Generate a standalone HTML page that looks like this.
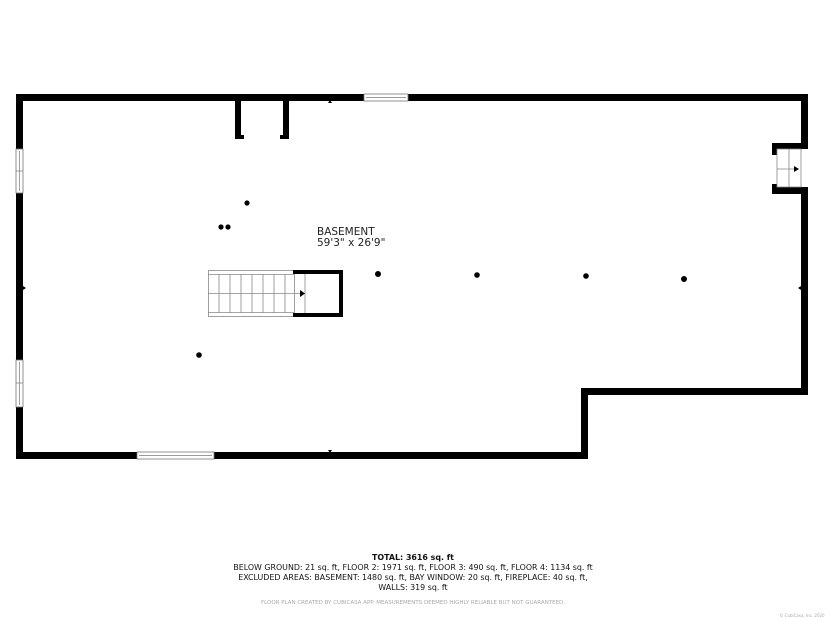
<!DOCTYPE html>
<html><head><style>
html,body{margin:0;padding:0;background:#fff;}
svg{display:block}
text{font-family:"DejaVu Sans","Liberation Sans",sans-serif;}
</style></head><body>
<svg width="825" height="619" viewBox="0 0 825 619" xmlns="http://www.w3.org/2000/svg">
<g fill="#000">
<rect x="16" y="94" width="792" height="7"/>
<rect x="16" y="94" width="7" height="365"/>
<rect x="16" y="452" width="572" height="7"/>
<rect x="581" y="388" width="7" height="71"/>
<rect x="581" y="388" width="227" height="7"/>
<rect x="801" y="94" width="7" height="301"/>
<rect x="235" y="100" width="6" height="39"/>
<rect x="235" y="135" width="9" height="4"/>
<rect x="283" y="100" width="6" height="39"/>
<rect x="280" y="135" width="9" height="4"/>
<rect x="772" y="143" width="36" height="6"/>
<rect x="772" y="187" width="36" height="7"/>
<rect x="772" y="143" width="5" height="12"/>
<rect x="772" y="184" width="5" height="10"/>
</g>
<g fill="#fff" stroke="#777" stroke-width="0.8">
<rect x="364" y="94" width="44" height="7"/>
<rect x="137" y="452" width="77" height="7"/>
<rect x="16" y="149" width="7" height="44"/>
<rect x="16" y="360" width="7" height="47"/>
<rect x="801" y="149" width="7" height="38" stroke="none"/>
</g>
<g stroke="#777" stroke-width="0.7">
<line x1="366" y1="97.5" x2="406" y2="97.5"/>
<line x1="139" y1="455.5" x2="212" y2="455.5"/>
<line x1="19.5" y1="151" x2="19.5" y2="191"/>
<line x1="19.5" y1="362" x2="19.5" y2="405"/>
<line x1="16" y1="171" x2="23" y2="171"/>
<line x1="16" y1="383" x2="23" y2="383"/>
</g>
<g stroke="#888" stroke-width="0.8" fill="none">
<rect x="777" y="149" width="24" height="38"/>
<line x1="789" y1="149" x2="789" y2="187"/>
<line x1="777" y1="169" x2="797" y2="169"/>
</g>
<polygon points="794,166 799,169 794,172" fill="#000"/>
<g stroke="#888" stroke-width="0.8" fill="none">
<rect x="208.5" y="270.5" width="86" height="46"/>
<line x1="208" y1="293.5" x2="305" y2="293.5"/>
<line x1="219" y1="274" x2="219" y2="313"/>
<line x1="230" y1="274" x2="230" y2="313"/>
<line x1="241" y1="274" x2="241" y2="313"/>
<line x1="252" y1="274" x2="252" y2="313"/>
<line x1="263" y1="274" x2="263" y2="313"/>
<line x1="274" y1="274" x2="274" y2="313"/>
<line x1="285" y1="274" x2="285" y2="313"/>
<line x1="305" y1="274" x2="305" y2="313"/>
<line x1="208" y1="274.5" x2="294" y2="274.5"/>
<line x1="208" y1="312.5" x2="294" y2="312.5"/>
</g>
<path d="M293 272 H341 V315 H293" fill="none" stroke="#000" stroke-width="4"/>
<polygon points="300,290 305,293.5 300,297" fill="#000"/>
<polygon points="328,103 332,103 330,100" fill="#000"/>
<polygon points="328,450 332,450 330,453" fill="#000"/>
<polygon points="23,286 23,290 26,288" fill="#000"/>
<polygon points="801,286 801,290 798,288" fill="#000"/>
<g fill="#000">
<circle cx="247" cy="203" r="2.6"/>
<circle cx="221" cy="227" r="2.6"/>
<circle cx="228" cy="227" r="2.6"/>
<circle cx="378" cy="274" r="3"/>
<circle cx="477" cy="275" r="2.8"/>
<circle cx="586" cy="276" r="2.8"/>
<circle cx="684" cy="279" r="3"/>
<circle cx="199" cy="355" r="2.8"/>
</g>
<text x="317" y="235" font-size="10.5" fill="#222" font-family="Liberation Sans,sans-serif">BASEMENT</text>
<text x="317" y="246" font-size="10.5" fill="#222" font-family="Liberation Sans,sans-serif">59'3" x 26'9"</text>
<g font-size="7.9" fill="#111" text-anchor="middle">
<text x="413" y="560" font-weight="bold">TOTAL: 3616 sq. ft</text>
<text x="413" y="570">BELOW GROUND: 21 sq. ft, FLOOR 2: 1971 sq. ft, FLOOR 3: 490 sq. ft, FLOOR 4: 1134 sq. ft</text>
<text x="413" y="580">EXCLUDED AREAS: BASEMENT: 1480 sq. ft, BAY WINDOW: 20 sq. ft, FIREPLACE: 40 sq. ft,</text>
<text x="413" y="590">WALLS: 319 sq. ft</text>
<text x="413" y="604" font-size="5.5" fill="#aaa">FLOOR PLAN CREATED BY CUBICASA APP. MEASUREMENTS DEEMED HIGHLY RELIABLE BUT NOT GUARANTEED.</text>
<text x="802" y="617" font-size="4" fill="#aaa">© CubiCasa, Inc. 2020</text>
</g>
</svg>
</body></html>
